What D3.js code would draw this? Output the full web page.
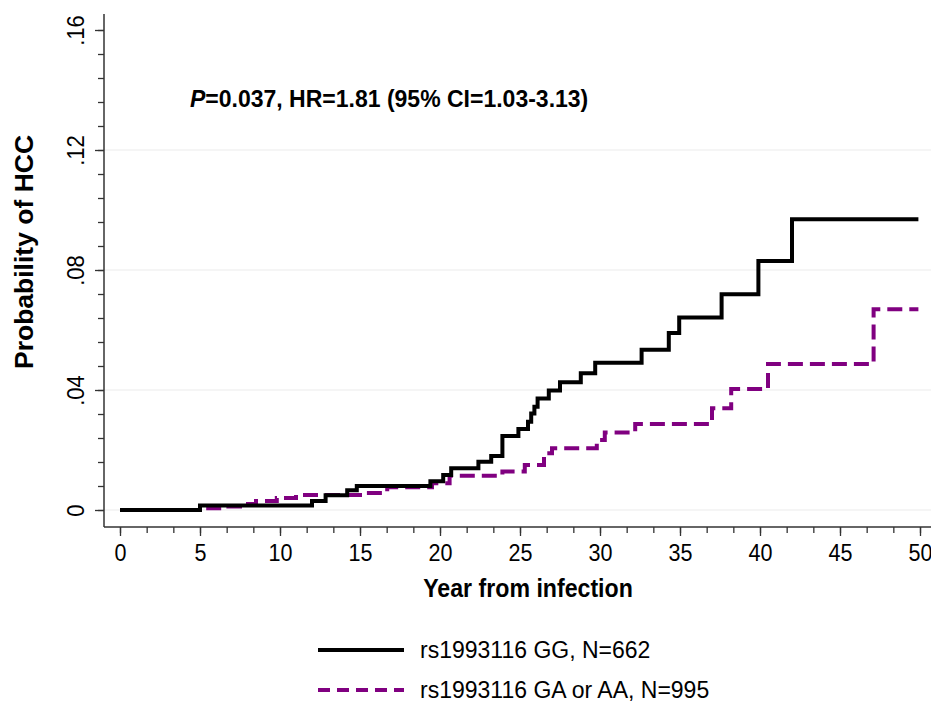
<!DOCTYPE html>
<html>
<head>
<meta charset="utf-8">
<script src="https://cdn.jsdelivr.net/npm/d3@7"></script>
<style>
  body { margin: 0; background: #fff; }
  svg { display: block; font-family: "Liberation Sans", Arial, sans-serif; }
</style>
</head>
<body>
<div id="chart"></div>
<script>
// Kaplan-Meier style cumulative incidence
const ggTimes = [0, 5, 12, 12.85, 14.2, 14.8, 19.4, 20.2, 20.7, 22.4, 23.2, 23.9, 24.9, 25.5, 25.7, 25.9, 26.1, 26.8, 27.5, 28.8, 29.7, 32.6, 34.3, 34.95, 37.6, 39.9, 42.0, 49.9];
const ggProb  = [0, 0.0015, 0.003, 0.0049, 0.0066, 0.008, 0.0096, 0.0117, 0.0139, 0.0161, 0.018, 0.0247, 0.027, 0.0294, 0.0322, 0.0344, 0.0372, 0.0398, 0.0426, 0.0456, 0.0491, 0.0534, 0.059, 0.0642, 0.0719, 0.083, 0.0969, 0.0969];

const gaTimes = [0, 5, 6.5, 7.5, 8.5, 9.8, 11, 15, 16.7, 19.5, 20.6, 23.9, 25.3, 26.5, 27, 29.8, 30.3, 32.2, 37, 38.2, 40.5, 47.1, 49.9];
const gaProb  = [0, 0.0006, 0.0012, 0.002, 0.003, 0.004, 0.005, 0.0057, 0.0076, 0.0089, 0.0114, 0.0128, 0.015, 0.0189, 0.0206, 0.0233, 0.0258, 0.0287, 0.0339, 0.0403, 0.0487, 0.0669, 0.0669];

const xTicks = [0, 5, 10, 15, 20, 25, 30, 35, 40, 45, 50];
const yTicks = [0, 0.04, 0.08, 0.12, 0.16];
const yTickLabels = ["0", ".04", ".08", ".12", ".16"];
const gridValues = [0, 0.04, 0.08, 0.12];

const seriesNames = ["rs1993116 GG, N=662", "rs1993116 GA or AA, N=995"];
const annotation = { p: "P", rest: "=0.037, HR=1.81 (95% CI=1.03-3.13)" };

const W = 931, H = 703;
const svg = d3.select("#chart").append("svg").attr("width", W).attr("height", H);

const x = d3.scaleLinear().domain([0, 50]).range([120, 920]);
const y = d3.scaleLinear().domain([0, 0.16]).range([510, 30]);
const axisX = 104, axisY = 527;

// gridlines
svg.append("g").selectAll("line").data(gridValues).enter().append("line")
  .attr("x1", axisX).attr("x2", W).attr("y1", d => y(d)).attr("y2", d => y(d))
  .attr("stroke", "#ebebeb").attr("stroke-width", 1);

// y axis
const yAxis = svg.append("g").attr("transform", `translate(${axisX},0)`)
  .call(d3.axisLeft(y).tickValues(yTicks).tickSize(9).tickFormat((d, i) => yTickLabels[i]));
yAxis.select(".domain").remove();
yAxis.append("line").attr("x1", 0).attr("x2", 0).attr("y1", 14).attr("y2", axisY)
  .attr("stroke", "#333").attr("stroke-width", 1.5);
svg.append("g").attr("transform", `translate(${axisX},0)`)
  .call(d3.axisLeft(y).tickValues(d3.range(0, 0.1601, 0.008)).tickSize(6).tickFormat(""))
  .select(".domain").remove();
yAxis.selectAll(".tick text")
  .attr("x", 0).attr("dy", 0)
  .attr("transform", "translate(-20,0) rotate(-90) scale(0.92,1)")
  .attr("text-anchor", "middle")
  .style("font-size", "24px").attr("fill", "#000");

// x axis
const xAxis = svg.append("g").attr("transform", `translate(0,${axisY})`)
  .call(d3.axisBottom(x).tickValues(xTicks).tickSize(9));
xAxis.select(".domain").remove();
xAxis.append("line").attr("x1", axisX).attr("x2", W).attr("y1", 0).attr("y2", 0)
  .attr("stroke", "#333").attr("stroke-width", 1.5);
svg.append("g").attr("transform", `translate(0,${axisY})`)
  .call(d3.axisBottom(x).tickValues(d3.range(0, 50.01, 5 / 3)).tickSize(6).tickFormat(""))
  .select(".domain").remove();
xAxis.selectAll(".tick text")
  .attr("y", 0).attr("dy", 0)
  .attr("transform", "translate(0,34) scale(0.88,1)")
  .style("font-size", "24.5px").attr("fill", "#000");

svg.selectAll(".tick line").attr("stroke", "#333").attr("stroke-width", 1.3);

// axis titles
svg.append("text")
  .attr("transform", "translate(528,597) scale(0.89,1)")
  .attr("text-anchor", "middle").style("font-size", "26px").style("font-weight", "bold")
  .text("Year from infection");
svg.append("text")
  .attr("transform", "translate(33,252) rotate(-90)")
  .attr("text-anchor", "middle").style("font-size", "26.5px").style("font-weight", "bold")
  .text("Probability of HCC");

// curves
const line = d3.line().x(d => x(d[0])).y(d => y(d[1])).curve(d3.curveStepAfter);
const ggData = d3.zip(ggTimes, ggProb);
const gaData = d3.zip(gaTimes, gaProb);

svg.append("path").datum(gaData).attr("d", line)
  .attr("fill", "none").attr("stroke", "#800080").attr("stroke-width", 4)
  .attr("stroke-dasharray", "15,7");
svg.append("path").datum(ggData).attr("d", line)
  .attr("fill", "none").attr("stroke", "#000").attr("stroke-width", 4)
  .attr("stroke-linejoin", "miter");

// annotation
const ann = svg.append("text").attr("x", 190).attr("y", 107)
  .style("font-size", "23px").style("font-weight", "bold");
ann.append("tspan").style("font-style", "italic").text(annotation.p);
ann.append("tspan").text(annotation.rest);

// legend
const legend = svg.append("g");
const legendY = [650, 690];
legend.selectAll("line").data(seriesNames).enter().append("line")
  .attr("x1", 318).attr("x2", 404).attr("y1", (d, i) => legendY[i]).attr("y2", (d, i) => legendY[i])
  .attr("stroke", (d, i) => i === 0 ? "#000" : "#800080").attr("stroke-width", 4)
  .attr("stroke-dasharray", (d, i) => i === 0 ? null : "12,7");
legend.selectAll("text").data(seriesNames).enter().append("text")
  .attr("x", 420).attr("y", (d, i) => legendY[i] + 8)
  .style("font-size", "23px")
  .text(d => d);
</script>
</body>
</html>
